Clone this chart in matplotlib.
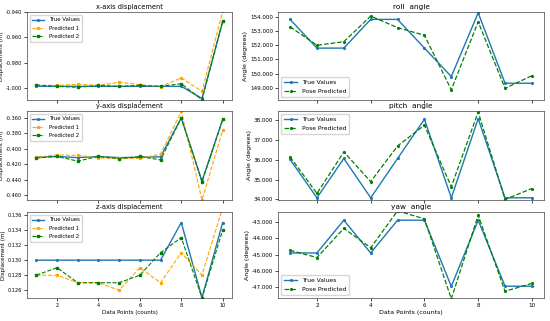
import matplotlib
matplotlib.use("Agg")
import matplotlib.pyplot as plt
from matplotlib.ticker import FormatStrFormatter, MultipleLocator

points = list(range(1, 11))

# displacement (m)
x_true = [-0.9987, -0.9987, -0.9987, -0.9987, -0.9987, -0.9987, -0.9987, -0.9987, -1.0083, -0.9475]
x_pred1 = [-0.998, -0.998, -0.997, -0.998, -0.9955, -0.9974, -0.999, -0.992, -1.0027, -0.9395]
x_pred2 = [-0.9976, -0.9987, -0.9995, -0.998, -0.9987, -0.998, -0.9987, -0.9966, -1.0093, -0.9475]

y_true = [-0.411, -0.410, -0.4115, -0.410, -0.4115, -0.411, -0.4105, -0.360, -0.442, -0.362]
y_pred1 = [-0.411, -0.408, -0.4085, -0.412, -0.4125, -0.4125, -0.407, -0.3515, -0.4665, -0.376]
y_pred2 = [-0.412, -0.410, -0.416, -0.410, -0.413, -0.410, -0.4145, -0.360, -0.443, -0.362]

z_true = [0.130, 0.130, 0.130, 0.130, 0.130, 0.130, 0.130, 0.135, 0.125, 0.135]
z_pred1 = [0.128, 0.128, 0.127, 0.127, 0.126, 0.129, 0.127, 0.131, 0.128, 0.137]
z_pred2 = [0.128, 0.129, 0.127, 0.127, 0.127, 0.128, 0.131, 0.133, 0.125, 0.134]

# angles (degrees)
roll_true = [153.82, 151.8, 151.8, 153.82, 153.82, 151.8, 149.8, 154.28, 149.33, 149.33]
roll_pred = [153.3, 152.0, 152.25, 154.05, 153.24, 152.7, 148.87, 153.65, 148.97, 149.86]

pitch_true = [36.02, 34.08, 36.07, 34.08, 36.07, 38.05, 34.08, 38.08, 34.08, 34.08]
pitch_pred = [36.15, 34.3, 36.4, 34.9, 36.7, 37.75, 34.64, 38.42, 34.0, 34.55]

yaw_true = [-44.9, -44.9, -42.9, -44.9, -42.9, -42.9, -46.94, -42.9, -46.93, -46.93]
yaw_pred = [-44.74, -45.18, -43.4, -44.58, -42.33, -42.82, -47.7, -42.6, -47.24, -46.76]

plt.rcParams.update({
    "font.family": "DejaVu Sans",
    "axes.linewidth": 0.5,
    "axes.edgecolor": "#444444",
    "xtick.major.width": 0.5,
    "ytick.major.width": 0.5,
    "xtick.major.size": 2,
    "ytick.major.size": 2,
    "xtick.major.pad": 1.5,
    "ytick.major.pad": 1.5,
})

W, H = 550, 321
fig = plt.figure(figsize=(5.5, 3.21), dpi=100)

def box(x0, x1, y0, y1):
    return [x0 / W, 1 - y1 / H, (x1 - x0) / W, (y1 - y0) / H]

rows = [(12, 100), (111, 200), (212, 298)]
left_cols = (27, 232)
right_cols = (278, 544)

blue = '#1f77b4'
orange = 'orange'
green = 'green'

left_data = [
    ("x-axis displacement", x_true, x_pred1, x_pred2, (-1.0095, -0.940), 0.02),
    ("y-axis displacement", y_true, y_pred1, y_pred2, (-0.4665, -0.351), 0.02),
    ("z-axis displacement", z_true, z_pred1, z_pred2, (0.12497, 0.1364), 0.002),
]
right_data = [
    ("roll  angle", roll_true, roll_pred, (148.15, 154.34), 'lower left'),
    ("pitch  angle", pitch_true, pitch_pred, (33.97, 38.47), 'upper left'),
    ("yaw  angle", yaw_true, yaw_pred, (-47.65, -42.4), 'lower left'),
]

def style(ax, title, ylabel, last, fs, tfs):
    ax.set_xlim(0.55, 10.45)
    ax.yaxis.set_major_formatter(FormatStrFormatter('%.3f'))
    ax.xaxis.set_major_locator(MultipleLocator(2))
    ax.tick_params(labelsize=fs)
    ax.set_title(title, pad=2, fontsize=tfs)
    ax.set_ylabel(ylabel, labelpad=1.5, fontsize=fs + 0.4)
    if not last:
        ax.set_xticklabels([])
    else:
        ax.set_xlabel('Data Points (counts)', labelpad=1.5, fontsize=fs + 0.4)

for i, (title, t, p1, p2, lim, step) in enumerate(left_data):
    ax = fig.add_axes(box(left_cols[0], left_cols[1], rows[i][0], rows[i][1]))
    ax.plot(points, t, color=blue, marker='.', markersize=2.5, linewidth=1.0, label='True Values')
    ax.plot(points, p1, color=orange, linestyle='--', marker='s', markersize=1.3, linewidth=0.8, label='Predicted 1')
    ax.plot(points, p2, color=green, linestyle='--', marker='s', markersize=1.6, linewidth=0.8, label='Predicted 2')
    ax.set_ylim(*lim)
    ax.yaxis.set_major_locator(MultipleLocator(step))
    style(ax, title, 'Displacement (m)', i == 2, 3.6, 4.8)
    ax.legend(loc='upper left', fontsize=3.9, handlelength=2.2, borderpad=0.5, labelspacing=0.6)

for i, (title, t, p, lim, loc) in enumerate(right_data):
    ax = fig.add_axes(box(right_cols[0], right_cols[1], rows[i][0], rows[i][1]))
    ax.plot(points, t, color=blue, marker='.', markersize=2.5, linewidth=1.0, label='True Values')
    ax.plot(points, p, color=green, linestyle='--', marker='.', markersize=2.5, linewidth=0.9, label='Pose Predicted')
    ax.set_ylim(*lim)
    ax.yaxis.set_major_locator(MultipleLocator(1))
    style(ax, title, 'Angle (degrees)', i == 2, 4.1, 5.3)
    ax.legend(loc=loc, fontsize=4.3, handlelength=2.2, borderpad=0.5, labelspacing=0.6)

fig.savefig('out.png', dpi=100)
